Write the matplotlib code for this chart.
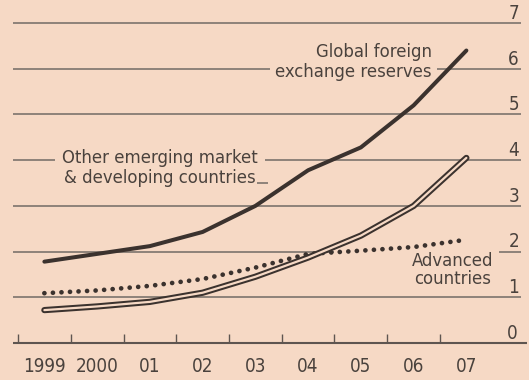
import numpy as np
import matplotlib
matplotlib.use("Agg")
import matplotlib.pyplot as plt
from matplotlib import font_manager
from matplotlib.patches import Rectangle

years = [1999, 2000, 2001, 2002, 2003, 2004, 2005, 2006, 2007]
year_labels = ["1999", "2000", "01", "02", "03", "04", "05", "06", "07"]
global_reserves = [1.78, 1.95, 2.12, 2.43, 3.0, 3.78, 4.28, 5.2, 6.4]
emerging = [0.72, 0.8, 0.9, 1.1, 1.45, 1.87, 2.35, 3.0, 4.05]
advanced = [1.09, 1.15, 1.25, 1.4, 1.65, 1.95, 2.02, 2.1, 2.26]
y_ticks = [0, 1, 2, 3, 4, 5, 6, 7]

bg = "#f6d9c5"
ink = "#3b322e"
grid_c = "#867b74"
txt_c = "#4a423d"

# look for a narrow font, the original uses a condensed face
narrow = None
for f in font_manager.fontManager.ttflist:
    if ("Narrow" in f.name or "Condensed" in f.name or f.stretch == "condensed") \
            and f.weight in (400, "normal", "regular") and f.style == "normal":
        narrow = f
        break
if narrow is not None:
    fp_num = font_manager.FontProperties(fname=narrow.fname, size=13.5)
    fp_lab = font_manager.FontProperties(fname=narrow.fname, size=13.2)
else:
    fp_num = font_manager.FontProperties(family="DejaVu Sans", size=12)
    fp_lab = font_manager.FontProperties(family="DejaVu Sans", size=11)

W, H = 529, 380
fig = plt.figure(figsize=(W / 100, H / 100), dpi=100)
fig.patch.set_facecolor(bg)
ax = fig.add_axes([0, 0, 1, 1])
ax.set_facecolor(bg)

# pixel mapping: year -> x px, value -> y px
x0, xs = 18, 52.75
y0, ys = 343, 45.7
ax.set_xlim(1998.5 - x0 / xs, 1998.5 + (W - x0) / xs)
ax.set_ylim((y0 - H) / ys, y0 / ys)
ax.axis("off")

def px2x(p):
    return 1998.5 + (p - x0) / xs

def px2y(p):
    return (y0 - p) / ys

xl, xr = px2x(13), px2x(521)
for v in y_ticks[1:]:
    ax.hlines(v, xl, xr, color=grid_c, lw=1.3, zorder=1)
    ax.text(px2x(519), v + 0.09, str(v), ha="right", va="baseline",
            fontproperties=fp_num, color=txt_c, zorder=5)
ax.hlines(0, xl, px2x(527), color="#5e5550", lw=1.5, zorder=1)
ax.text(px2x(518), 0.09, "0", ha="right", va="baseline",
        fontproperties=fp_num, color=txt_c, zorder=5)

edges = np.array(years) - 0.5
ax.vlines(edges, 0, 9 / ys, color="#5e5550", lw=1.0, zorder=2)
for yr, lab in zip(years, year_labels):
    ax.text(yr, px2y(366), lab, ha="center", va="center",
            fontproperties=fp_num, color=txt_c)

# labels, their background hides the gridlines
ax.text(px2x(432), px2y(62), "Global foreign\nexchange reserves",
        ha="right", va="center", multialignment="right",
        fontproperties=fp_lab, color=txt_c, linespacing=1.1, zorder=3,
        bbox=dict(facecolor=bg, edgecolor="none", pad=4))

ax.text(px2x(160), px2y(168), "Other emerging market\n& developing countries",
        ha="center", va="center", multialignment="center",
        fontproperties=fp_lab, color=txt_c, linespacing=1.1, zorder=3,
        bbox=dict(facecolor=bg, edgecolor="none", pad=5))
ax.hlines(px2y(183), px2x(257), px2x(268), color=grid_c, lw=1.3, zorder=3)

ax.add_patch(Rectangle((px2x(334), px2y(292)), px2x(499) - px2x(334),
                       px2y(249) - px2y(292), facecolor=bg, edgecolor="none",
                       zorder=2))
ax.text(px2x(453), px2y(270), "Advanced\ncountries",
        ha="center", va="center", multialignment="center",
        fontproperties=fp_lab, color=txt_c, linespacing=1.0, zorder=3)

# data lines
ax.plot(years, global_reserves, color=ink, lw=2.9, solid_capstyle="round",
        zorder=6)
ax.plot(years, emerging, color=ink, lw=4.5, solid_capstyle="round", zorder=6)
ax.plot(years, emerging, color=bg, lw=1.6, solid_capstyle="round", zorder=7)
ax.plot(years, advanced, color=ink, lw=3.4, linestyle=(0, (0.01, 1.8)),
        dash_capstyle="round", zorder=6)

fig.savefig("out.png", dpi=100, facecolor=bg)
